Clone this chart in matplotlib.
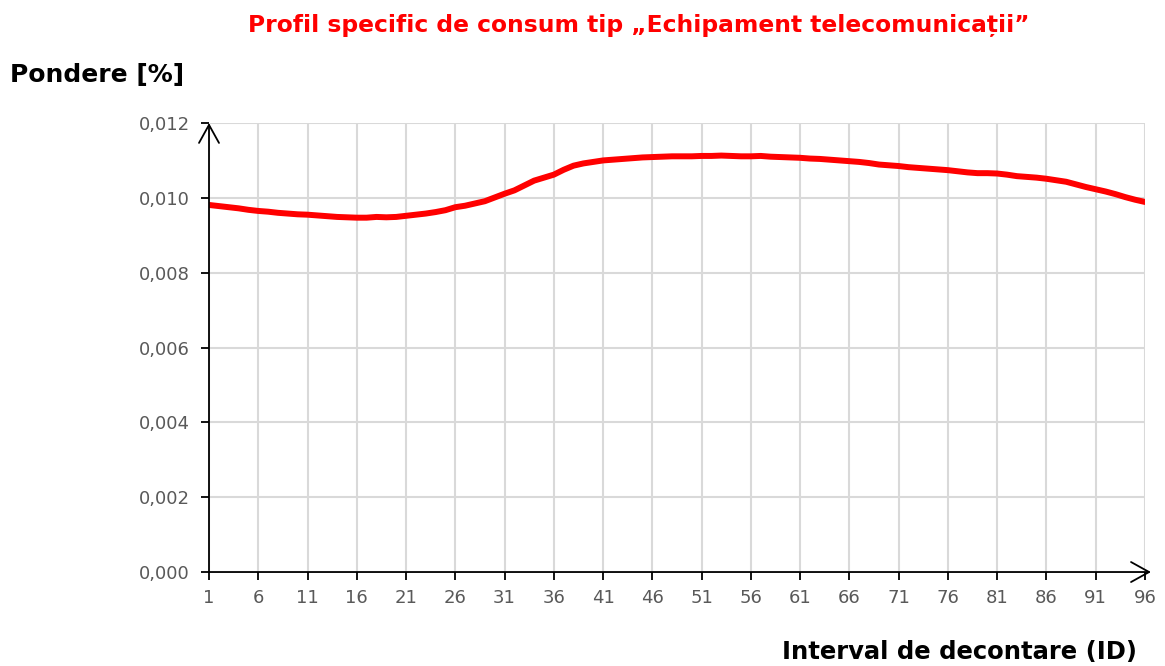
import matplotlib
matplotlib.use("Agg")
import matplotlib.pyplot as plt
from matplotlib.ticker import FuncFormatter

# Interval de decontare 1..96 and weight per interval
intervals = list(range(1, 97))
pondere = [
    0.00981, 0.00978, 0.00975, 0.00972, 0.00968, 0.00965, 0.00963, 0.00960,
    0.00958, 0.00956, 0.00955, 0.00953, 0.00951, 0.00949, 0.00948, 0.00947,
    0.00947, 0.00949, 0.00948, 0.00949, 0.00952, 0.00955, 0.00958, 0.00962,
    0.00967, 0.00975, 0.00979, 0.00985, 0.00991, 0.01001, 0.01011, 0.01020,
    0.01033, 0.01046, 0.01054, 0.01062, 0.01075, 0.01086, 0.01092, 0.01096,
    0.01100, 0.01102, 0.01104, 0.01106, 0.01108, 0.01109, 0.01110, 0.01111,
    0.01111, 0.01111, 0.01112, 0.01112, 0.01113, 0.01112, 0.01111, 0.01111,
    0.01112, 0.01110, 0.01109, 0.01108, 0.01107, 0.01105, 0.01104, 0.01102,
    0.01100, 0.01098, 0.01096, 0.01093, 0.01089, 0.01087, 0.01085, 0.01082,
    0.01080, 0.01078, 0.01076, 0.01074, 0.01071, 0.01068, 0.01066, 0.01066,
    0.01065, 0.01062, 0.01058, 0.01056, 0.01054, 0.01051, 0.01047, 0.01043,
    0.01036, 0.01029, 0.01023, 0.01017, 0.01010, 0.01002, 0.00995, 0.00989,
]
x_ticks = list(range(1, 97, 5))
y_ticks = [0.0, 0.002, 0.004, 0.006, 0.008, 0.010, 0.012]

title = "Profil specific de consum tip \u201eEchipament telecomunica\u021bii\u201d"
ylabel = "Pondere [%]"
xlabel = "Interval de decontare (ID)"

plt.rcParams['font.family'] = ['DejaVu Sans']

fig = plt.figure(figsize=(11.65, 6.66), dpi=100)
ax = fig.add_axes([0.1794, 0.1411, 0.9828 - 0.1794, 0.8153 - 0.1411])

ax.plot(intervals, pondere, color='#ff0000', linewidth=4.3, solid_capstyle='round', zorder=3)

ax.set_xlim(1, 96)
ax.set_ylim(0, 0.012)
ax.set_xticks(x_ticks)
ax.set_yticks(y_ticks)
ax.yaxis.set_major_formatter(FuncFormatter(lambda v, p: f"{v:.3f}".replace('.', ',')))

ax.grid(True, color='#d9d9d9', linewidth=1.5)
ax.set_axisbelow(True)
for s in ['top', 'right', 'left', 'bottom']:
    ax.spines[s].set_visible(False)
ax.tick_params(axis='both', direction='out', length=6, width=1.3, color='black',
               labelsize=13, labelcolor='#595959')
ax.tick_params(axis='x', pad=6)
ax.tick_params(axis='y', pad=8)

# axes drawn as arrows
arrow = dict(arrowstyle='->,head_length=1.3,head_width=0.72', color='black', lw=1.3,
             mutation_scale=10, shrinkA=0, shrinkB=0)
ax.annotate('', xy=(0.0, 1.0), xytext=(0.0, 0.0), xycoords='axes fraction', arrowprops=arrow)
ax.annotate('', xy=(1.0064, 0.0), xytext=(0.0, 0.0), xycoords='axes fraction', arrowprops=arrow)

fig.text(0.548, 0.962, title, color='#ff0000', fontsize=16.8, fontweight='bold',
         ha='center', va='center')
fig.text(0.009, 0.888, ylabel, color='black', fontsize=18, fontweight='bold',
         ha='left', va='center')
fig.text(0.976, 0.021, xlabel, color='black', fontsize=17.5, fontweight='bold',
         ha='right', va='center')

fig.savefig('out.png', dpi=100)
